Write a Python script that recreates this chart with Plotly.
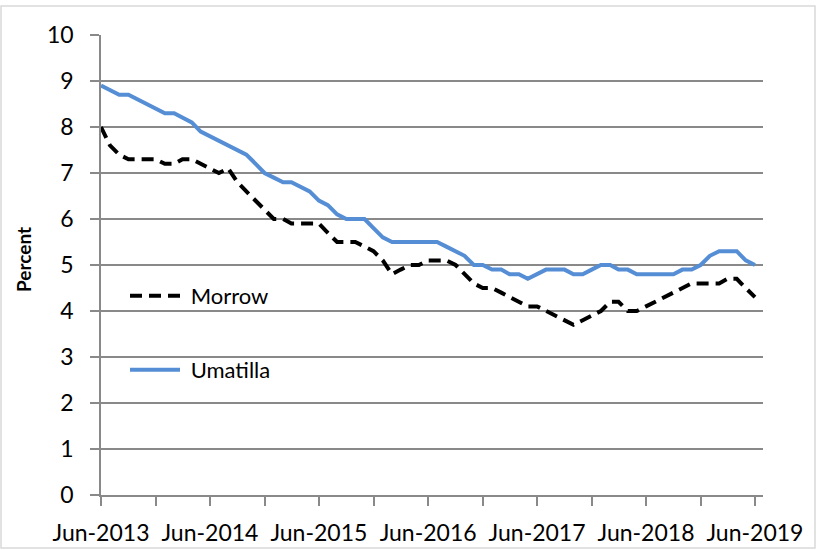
import pandas as pd
import plotly.graph_objects as go

# ---- data ----
months = pd.date_range("2013-06-01", periods=73, freq="MS")
morrow = [8.0, 7.6, 7.4, 7.3, 7.3, 7.3, 7.3, 7.2, 7.2, 7.3, 7.3, 7.2,
          7.1, 7.0, 7.1, 6.8, 6.6, 6.4, 6.2, 6.0, 6.0, 5.9, 5.9, 5.9,
          5.9, 5.7, 5.5, 5.5, 5.5, 5.4, 5.3, 5.1, 4.8, 4.9, 5.0, 5.0,
          5.1, 5.1, 5.1, 5.0, 4.8, 4.6, 4.5, 4.5, 4.4, 4.3, 4.2, 4.1,
          4.1, 4.0, 3.9, 3.8, 3.7, 3.8, 3.9, 4.0, 4.2, 4.2, 4.0, 4.0,
          4.1, 4.2, 4.3, 4.4, 4.5, 4.6, 4.6, 4.6, 4.6, 4.7, 4.7, 4.5,
          4.3]
umatilla = [8.9, 8.8, 8.7, 8.7, 8.6, 8.5, 8.4, 8.3, 8.3, 8.2, 8.1, 7.9,
            7.8, 7.7, 7.6, 7.5, 7.4, 7.2, 7.0, 6.9, 6.8, 6.8, 6.7, 6.6,
            6.4, 6.3, 6.1, 6.0, 6.0, 6.0, 5.8, 5.6, 5.5, 5.5, 5.5, 5.5,
            5.5, 5.5, 5.4, 5.3, 5.2, 5.0, 5.0, 4.9, 4.9, 4.8, 4.8, 4.7,
            4.8, 4.9, 4.9, 4.9, 4.8, 4.8, 4.9, 5.0, 5.0, 4.9, 4.9, 4.8,
            4.8, 4.8, 4.8, 4.8, 4.9, 4.9, 5.0, 5.2, 5.3, 5.3, 5.3, 5.1,
            5.0]
tick_dates = pd.date_range("2013-06-01", "2019-06-01", freq="6MS")
tick_text = [d.strftime("%b-%Y") if d.month == 6 else "" for d in tick_dates]
y_ticks = list(range(0, 11))

FONT = "Lato"
GRID = "#898989"

fig = go.Figure()
fig.add_trace(go.Scatter(
    x=months, y=morrow, mode="lines", name="\u00a0Morrow",
    line=dict(color="black", width=4, dash="12px,7px"),
    legend="legend"))
fig.add_trace(go.Scatter(
    x=months, y=umatilla, mode="lines", name="\u00a0Umatilla",
    line=dict(color="#558ED5", width=4),
    legend="legend2"))

L, R, T, B = 101, 54, 35, 55
PW, PH = 817 - L - R, 550 - T - B

def px(x):
    return (x - L) / PW

def py(y):
    return (550 - B - y) / PH

fig.update_layout(
    width=817, height=550,
    margin=dict(l=L, r=R, t=T, b=B, pad=0, autoexpand=False),
    paper_bgcolor="white", plot_bgcolor="white",
    font=dict(family=FONT, size=23, color="black"),
    showlegend=True,
    legend=dict(x=px(125), y=py(296), xanchor="left", yanchor="middle",
                bgcolor="rgba(0,0,0,0)", itemwidth=50,
                font=dict(family=FONT, size=22)),
    legend2=dict(x=px(125), y=py(370), xanchor="left", yanchor="middle",
                 bgcolor="rgba(0,0,0,0)", itemwidth=50,
                 font=dict(family=FONT, size=22)),
    xaxis=dict(
        type="date", range=["2013-06-01", "2019-06-28"],
        tickmode="array", tickvals=tick_dates, ticktext=tick_text,
        showgrid=False, showline=True, linecolor=GRID, linewidth=1.5,
        ticks="outside", ticklen=9, tickcolor=GRID, tickwidth=1.5,
        ticklabelstandoff=8, automargin=False,
        tickfont=dict(family=FONT, size=23), zeroline=False,
    ),
    yaxis=dict(
        range=[0, 10], tickmode="array", tickvals=y_ticks,
        showgrid=True, gridcolor=GRID, gridwidth=1.5,
        showline=True, linecolor=GRID, linewidth=1.5,
        ticks="outside", ticklen=9, tickcolor=GRID, tickwidth=1.5,
        ticklabelstandoff=12, automargin=False,
        tickfont=dict(family=FONT, size=23), zeroline=False,
    ),
    annotations=[dict(
        text="<b>Percent</b>", textangle=-90,
        xref="paper", yref="paper", x=px(23), y=py(260),
        xanchor="center", yanchor="middle", showarrow=False,
        font=dict(family=FONT, size=19, color="black"))],
    shapes=[dict(
        type="rect", xref="paper", yref="paper",
        x0=px(1), x1=px(815), y0=py(548), y1=py(6),
        line=dict(color="#d9d9d9", width=1.5), fillcolor="rgba(0,0,0,0)",
        layer="below")],
)

fig.write_html(
    "out.html",
    config={"displayModeBar": False},
    post_script="document.body.style.margin='0';document.body.style.overflow='hidden';",
)
